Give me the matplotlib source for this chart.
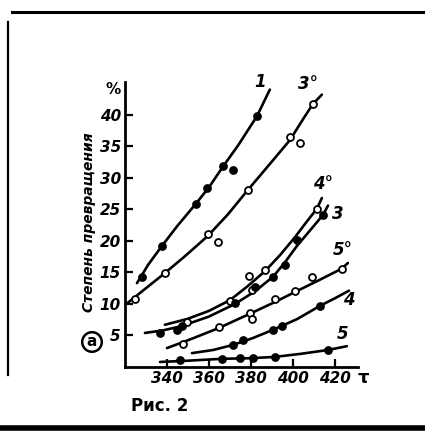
import matplotlib
matplotlib.use("Agg")
import matplotlib.pyplot as plt
from matplotlib.lines import Line2D

plt.rcParams['font.family'] = ['DejaVu Sans Condensed', 'DejaVu Sans']

# ---- data (T, degree of conversion %) ----
# curve 1 (filled)
c1_T = [328.0, 337.6, 353.8, 359.0, 366.7, 371.4, 382.9]
c1_v = [14.3, 19.2, 25.9, 28.4, 31.9, 31.3, 39.8]
c1_line_T = [325.7, 331.0, 337.6, 345.0, 353.8, 360.0, 366.7, 374.0, 382.9, 389.0]
c1_line_v = [13.3, 16.2, 19.2, 22.4, 25.9, 28.5, 31.8, 35.2, 39.8, 44.0]

# curve 3° (open)
c3o_T = [324.8, 339.0, 359.5, 364.3, 378.6, 398.6, 403.3, 409.5]
c3o_v = [10.8, 14.9, 21.1, 19.8, 28.1, 36.5, 35.6, 41.7]
c3o_line_T = [321.4, 330.0, 339.0, 349.0, 359.5, 369.0, 378.6, 389.0, 398.6, 405.0, 409.5, 413.8]
c3o_line_v = [10.2, 12.5, 14.9, 17.7, 20.8, 24.2, 28.1, 32.2, 36.0, 39.4, 41.7, 43.2]

# curve 4° (open)
c4o_T = [349.5, 370.0, 379.0, 380.5, 386.7, 411.4]
c4o_v = [7.1, 10.5, 14.4, 12.2, 15.4, 25.1]
c4o_line_T = [339.0, 349.5, 360.0, 370.0, 378.0, 386.7, 394.0, 401.0, 406.0, 411.4, 413.8]
c4o_line_v = [6.7, 7.6, 8.9, 10.6, 12.7, 15.2, 17.8, 20.6, 22.8, 25.1, 26.8]

# curve 3 (filled)
c3_T = [336.7, 344.8, 347.1, 372.4, 381.9, 390.5, 396.2, 401.9, 414.3]
c3_v = [5.4, 5.9, 6.5, 10.2, 12.7, 14.3, 16.2, 20.2, 24.1]
c3_line_T = [329.5, 338.0, 347.1, 360.0, 372.4, 381.9, 390.5, 396.2, 401.9, 408.0, 414.3, 416.7]
c3_line_v = [5.4, 5.8, 6.5, 8.0, 10.0, 12.0, 14.3, 16.6, 19.2, 21.6, 24.1, 25.6]

# curve 5° (open)
c5o_T = [347.6, 364.8, 379.5, 380.5, 391.4, 401.0, 409.0, 423.3]
c5o_v = [3.6, 6.3, 8.6, 7.6, 10.8, 12.1, 14.3, 15.6]
c5o_line_T = [340.0, 352.0, 364.8, 380.5, 391.4, 401.0, 412.0, 423.3, 426.2]
c5o_line_v = [3.0, 4.5, 6.2, 8.6, 10.3, 11.9, 13.7, 15.6, 16.5]

# curve 4 (filled)
c4_T = [371.4, 376.2, 390.5, 394.8, 412.9]
c4_v = [3.5, 4.3, 5.9, 6.5, 9.7]
c4_line_T = [351.9, 362.0, 371.4, 381.0, 390.5, 402.0, 412.9, 420.0, 426.7]
c4_line_v = [2.2, 2.7, 3.5, 4.6, 5.9, 7.6, 9.7, 10.9, 12.1]

# curve 5 (filled)
c5_T = [346.2, 366.2, 374.8, 381.0, 391.4, 416.7]
c5_v = [1.1, 1.3, 1.4, 1.4, 1.6, 2.7]
c5_line_T = [336.7, 350.0, 366.2, 380.0, 391.4, 404.0, 416.7, 425.7]
c5_line_v = [0.8, 1.0, 1.3, 1.4, 1.6, 2.1, 2.7, 3.3]

x_ticks = [340, 360, 380, 400, 420]
y_ticks = [5, 10, 15, 20, 25, 30, 35, 40]

W, H = 425, 440
fig = plt.figure(figsize=(W / 100, H / 100), dpi=100)
fig.patch.set_facecolor("white")

def fx(px):
    return px / W

def fy(py):
    return 1 - py / H

ax = fig.add_axes([fx(125), fy(367), (358 - 125) / W, (367 - 82) / H])
ax.set_xlim(320, 431)
ax.set_ylim(0, 45.2)
for s in ["top", "right"]:
    ax.spines[s].set_visible(False)
for s in ["left", "bottom"]:
    ax.spines[s].set_linewidth(2.0)

series = [
    (c1_T, c1_v, c1_line_T, c1_line_v, True),
    (c3o_T, c3o_v, c3o_line_T, c3o_line_v, False),
    (c4o_T, c4o_v, c4o_line_T, c4o_line_v, False),
    (c3_T, c3_v, c3_line_T, c3_line_v, True),
    (c5o_T, c5o_v, c5o_line_T, c5o_line_v, False),
    (c4_T, c4_v, c4_line_T, c4_line_v, True),
    (c5_T, c5_v, c5_line_T, c5_line_v, True),
]
for T, v, lT, lv, filled in series:
    ax.plot(lT, lv, color="black", lw=1.9, solid_capstyle="round",
            solid_joinstyle="round", zorder=2)
    ax.plot(T, v, linestyle="none", marker="o", markersize=5,
            markerfacecolor="black" if filled else "white",
            markeredgecolor="black", markeredgewidth=1.3, zorder=3)

ax.set_xticks(x_ticks)
ax.set_xticklabels([str(t) for t in x_ticks])
ax.set_yticks(y_ticks)
ax.set_yticklabels([str(t) for t in y_ticks])
ax.tick_params(axis="both", direction="in", length=6, width=1.6,
               labelsize=11, pad=3)
for lab in ax.get_xticklabels() + ax.get_yticklabels():
    lab.set_fontstyle("italic")
    lab.set_fontweight("bold")

# curve labels
lbl = dict(fontsize=12, fontstyle="italic", fontweight="bold", ha="center", va="center")
fig.text(fx(260), fy(82), "1", **lbl)
fig.text(fx(308), fy(84), "3°", **lbl)
fig.text(fx(323), fy(184), "4°", **lbl)
fig.text(fx(338), fy(214), "3", **lbl)
fig.text(fx(343), fy(250), "5°", **lbl)
fig.text(fx(349), fy(300), "4", **lbl)
fig.text(fx(343), fy(334), "5", **lbl)

# axis annotations
fig.text(fx(113), fy(89), "%", fontsize=11, fontweight="bold", ha="center", va="center")
fig.text(fx(363), fy(378), "τ", fontsize=13, fontweight="bold", ha="center", va="center")
fig.text(fx(89), fy(222), "Степень превращения", rotation=90, fontsize=10,
         fontstyle="italic", fontweight="bold", ha="center", va="center")
fig.text(fx(92), fy(342), "а", fontsize=11, fontweight="bold", ha="center", va="center",
         bbox=dict(boxstyle="circle,pad=0.15", fc="white", ec="black", lw=1.8))

fig.text(fx(160), fy(406), "Рис. 2", fontsize=12, fontweight="bold", ha="center", va="center")

# page borders from the scan
fig.add_artist(Line2D([fx(12), fx(425)], [fy(12), fy(12)], color="black", lw=2.2))
fig.add_artist(Line2D([fx(8), fx(8)], [fy(22), fy(375)], color="black", lw=1.6))
fig.add_artist(Line2D([fx(0), fx(425)], [fy(428), fy(428)], color="black", lw=4))

fig.savefig("out.png", dpi=100, facecolor="white")
